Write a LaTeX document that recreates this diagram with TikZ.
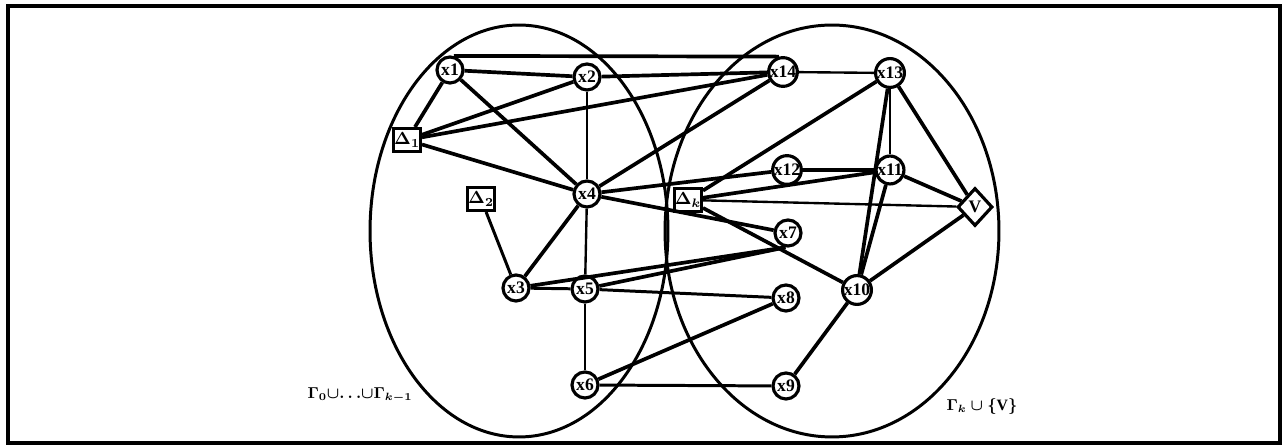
\documentclass[tikz,border=0pt]{standalone}
\usepackage{fontspec}
\setmainfont{Liberation Serif}
\usetikzlibrary{shapes.geometric}
\begin{document}
\begin{tikzpicture}[x=0.02cm,y=-0.02cm,
  vtx/.style={circle,draw,line width=1.8pt,fill=white,minimum size=0.52cm,inner sep=0pt,font=\fontsize{10}{10}\selectfont\bfseries},
  dbox/.style={rectangle,draw,line width=1.7pt,fill=white,minimum width=0.54cm,minimum height=0.46cm,inner sep=0pt,font=\fontsize{10}{10}\selectfont\boldmath},
  vdia/.style={diamond,draw,line width=1.8pt,fill=white,minimum width=0.7cm,minimum height=0.76cm,inner sep=0pt,font=\fontsize{10}{10}\selectfont\bfseries},
  edgeA/.style={line width=2.1pt},
  edgeB/.style={line width=1.7pt},
  edgeC/.style={line width=1.35pt},
  region/.style={line width=1.7pt},
  lbl/.style={inner sep=0pt,font=\fontsize{9}{9}\selectfont\bfseries\boldmath},
]
\useasboundingbox (0,0) rectangle (1286,445);
\draw[line width=1.8pt] (8,6) rectangle (1280,443);
\draw[region] (519,231) ellipse [x radius=2.98cm, y radius=4.12cm];
\draw[region] (832,231) ellipse [x radius=3.34cm, y radius=4.12cm];

\node[vtx] (x1) at (450,70) {x1};
\node[vtx] (x2) at (587,77) {x2};
\node[vtx] (x14) at (783,72) {x14};
\node[vtx] (x13) at (890,73) {x13};
\node[dbox] (d1) at (407,140) {$\Delta_1$};
\node[dbox] (d2) at (481,199) {$\Delta_2$};
\node[vtx] (x4) at (587,194) {x4};
\node[vtx] (x12) at (787,170) {x12};
\node[vtx] (x11) at (890,170) {x11};
\node[dbox] (dk) at (688,200) {$\Delta_k$};
\node[vdia] (v) at (975,207) {V};
\node[vtx] (x7) at (788,233) {x7};
\node[vtx] (x3) at (516,288) {x3};
\node[vtx] (x5) at (585,289) {x5};
\node[vtx] (x10) at (857,290) {x10};
\node[vtx] (x8) at (786,298) {x8};
\node[vtx] (x6) at (585,385) {x6};
\node[vtx] (x9) at (786,386) {x9};

\node[lbl] (gl) at (360,395) {$\Gamma_0{\cup}{\ldots}{\cup}\Gamma_{k-1}$};
\node[lbl] (gr) at (982,407) {$\Gamma_k\cup\{\mathrm{V}\}$};

% thick edges
\draw[edgeA] (x1.75) -- (x14.105);
\draw[edgeA] (x1) -- (x2);
\draw[edgeA] (x2) -- (x14);
\draw[edgeA] (d1) -- (x1);
\draw[edgeA] (d1) -- (x2);
\draw[edgeA] (d1) -- (x14);
\draw[edgeA] (d1) -- (x4);
\draw[edgeA] (x1) -- (x4);
\draw[edgeA] (x4) -- (x14);
\draw[edgeA] (x4) -- (x12);
\draw[edgeA] (x4) -- (x7);
\draw[edgeA] (x4) -- (x3);
\draw[edgeA] (dk) -- (x13);
\draw[edgeA] (dk) -- (x11);
\draw[edgeA] (dk) -- (x10);
\draw[edgeA] (x12) -- (x11);
\draw[edgeA] (x13) -- (x10);
\draw[edgeA] (x11) -- (x10);
\draw[edgeA] (x13) -- (v);
\draw[edgeA] (x11) -- (v);
\draw[edgeA] (v) -- (x10);
\draw[edgeA] (x10) -- (x9);
\draw[edgeA] (x3) -- (x7.260);
\draw[edgeA] (x5) -- (x7.260);
\draw[edgeA] (x6) -- (x8);
% medium edges
\draw[edgeB] (x3) -- (x5);
\draw[edgeB] (x5) -- (x8);
\draw[edgeB] (x6) -- (x9);
\draw[edgeB] (d2) -- (x3);
% thin edges
\draw[edgeC] (x2) -- (x4);
\draw[edgeC] (x4) -- (x5);
\draw[edgeC] (x5) -- (x6);
\draw[edgeC] (x14) -- (x13);
\draw[edgeC] (x13) -- (x11);
\draw[edgeC] (dk) -- (v);
\end{tikzpicture}
\end{document}
